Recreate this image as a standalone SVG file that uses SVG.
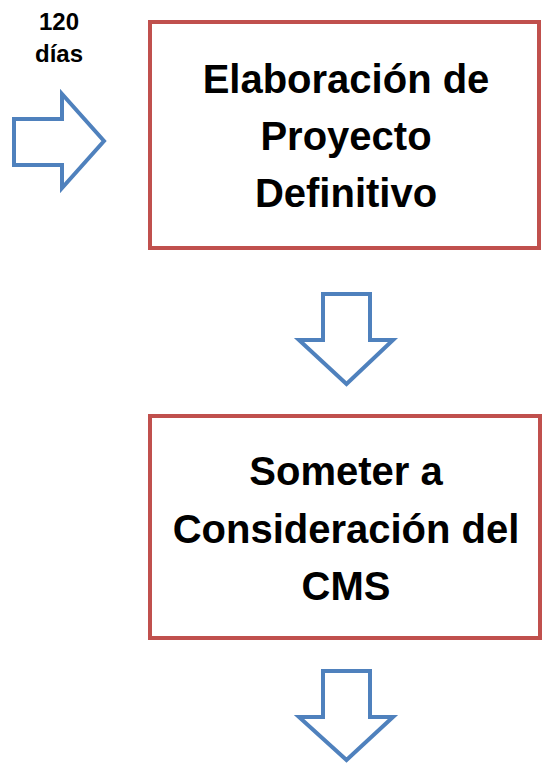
<svg xmlns="http://www.w3.org/2000/svg" width="543" height="764" viewBox="0 0 543 764">
<style>
.box{fill:#FFFFFF;stroke:#C0504D;stroke-width:4}
.arrow{fill:#FFFFFF;stroke:#4F81BD;stroke-width:4;stroke-linejoin:miter}
.t{font-family:"Liberation Sans",Arial,sans-serif;font-weight:bold;fill:#000000;text-anchor:middle}
.big{font-size:40px}
.small{font-size:24px}
</style>
<rect width="543" height="764" fill="#FFFFFF"/>
<g id="label-120">
<text class="t small" x="59" y="30">120</text>
<text class="t small" x="59" y="62">días</text>
</g>
<g id="node-elaboracion">
<rect class="box" x="150" y="22" width="389" height="226"/>
<text class="t big" x="346" y="93">Elaboración de</text>
<text class="t big" x="346" y="150">Proyecto</text>
<text class="t big" x="346" y="207">Definitivo</text>
</g>
<g id="node-someter">
<rect class="box" x="150" y="416" width="390" height="222"/>
<text class="t big" x="346" y="485">Someter a</text>
<text class="t big" x="346" y="543">Consideración del</text>
<text class="t big" x="346" y="600">CMS</text>
</g>
<g id="connectors">
<path class="arrow" d="M14,119 H62 V94 L104,141 L62,188 V165 H14 Z"/>
<path class="arrow" d="M323,294 H370 V340 H393 L346.5,384 L299,340 H323 Z"/>
<path class="arrow" d="M323,671 H370 V717 H393 L346.5,760 L299,717 H323 Z"/>
</g>
</svg>
